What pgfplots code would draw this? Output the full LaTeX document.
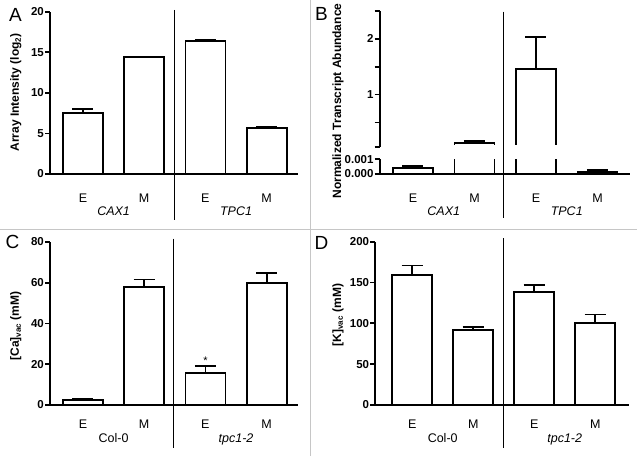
\documentclass[border=0pt]{standalone}
\usepackage{fontspec}
\setmainfont{Liberation Sans}
\usepackage{pgfplots}
\usepackage{pgfplotstable}
\pgfplotsset{compat=1.18}

\pgfplotsset{
  panel/.style={
    scale only axis, anchor=south west,
    axis lines*=left,
    axis line style={line width=1.8pt, black},
    tick align=outside,
    major tick length=5pt,
    ytick style={line width=1.8pt, black},
    xtick style={draw=none},
    xtick={0,1,2,3},
    xticklabels={E,M,E,M},
    xticklabel style={font=\fontsize{12.5}{14}\selectfont, anchor=base},
    yticklabel style={font=\bfseries\fontsize{11.5}{13}\selectfont, inner sep=1pt},
    /pgf/number format/assume math mode=true,
    scaled y ticks=false,
    ybar, bar width=40pt, bar shift=0pt,
    ymin=0, clip=false,
  },
  barplot/.style={draw=black, fill=white, line width=1.8pt,
    error bars/y dir=plus, error bars/y explicit,
    error bars/error bar style={line width=1.8pt, solid, black},
    error bars/error mark options={rotate=90, line width=1.8pt, mark size=10.5pt, black}},
}
\tikzset{glabel/.style={anchor=base, font=\fontsize{12.5}{14}\selectfont}}

% panel B: E/M for CAX1 and TPC1
\pgfplotstableread{
x y err
0 0.0004 0.00015
1 0.125 0.04
2 1.46 0.57
3 0.00015 0.0001
}\dataB

\begin{document}
\begin{tikzpicture}
\useasboundingbox (0,0) rectangle (637pt,456pt);

% panel separators
\draw[gray!45, line width=1pt] (310pt,0) -- (310pt,456pt);
\draw[gray!45, line width=1pt] (0,227pt) -- (637pt,227pt);

% ---------- A ----------
\begin{axis}[panel, at={(50pt,282pt)}, width=248pt, height=162.3pt,
  xmin=-0.539, xmax=3.513, ymax=20, ytick={0,5,10,15,20},
  xticklabel style={yshift=-23pt}]
\addplot[barplot] coordinates {(0,7.5) +- (0,0.55) (1,14.4) +- (0,0.05) (2,16.4) +- (0,0.12) (3,5.7) +- (0,0.12)};
\node[glabel, font=\itshape\fontsize{12.5}{14}\selectfont, yshift=-41pt] at (axis cs:0.5,0) {CAX1};
\node[glabel, font=\itshape\fontsize{12.5}{14}\selectfont, yshift=-41pt] at (axis cs:2.5,0) {TPC1};
\end{axis}
\draw[line width=1pt] (174pt,446pt) -- (174pt,236pt);

% ---------- B (broken axis) ----------
\begin{axis}[panel, at={(379.7pt,282pt)}, width=250pt, height=14.7pt,
  xmin=-0.541, xmax=3.524, ymax=0.001, ytick={0,0.001}, yticklabels={0.000,0.001},
  clip=true, clip mode=individual, xticklabel style={yshift=-23pt}]
\addplot[barplot] coordinates {(0,0.0004) +- (0,0.00015) (3,0.00015) +- (0,0.0001)};
\addplot[draw=black, fill=white, line width=1.8pt, y filter/.expression={min(y,0.0016)}]
  table[x=x, y=y] {\dataB};
\node[glabel, font=\itshape\fontsize{12.5}{14}\selectfont, yshift=-41pt] at (axis cs:0.5,0) {CAX1};
\node[glabel, font=\itshape\fontsize{12.5}{14}\selectfont, yshift=-41pt] at (axis cs:2.5,0) {TPC1};
\end{axis}
\begin{axis}[panel, at={(379.7pt,309.3pt)}, width=250pt, height=135.7pt,
  xmin=-0.541, xmax=3.524, ymin=0.065, ymax=2.5,
  axis x line=none, xtick=\empty,
  ytick={0.065,0.5,1,1.5,2,2.5}, yticklabels={,,1,,2,},
  clip=true, clip mode=individual]
\addplot[barplot] table[x=x, y=y, y error=err] {\dataB};
\end{axis}
% open gap of the broken axis (hides the bar bases at the lower edge of the upper segment)
\fill[white] (381.5pt,297.5pt) rectangle (632pt,310.6pt);
\draw[line width=1pt] (503.7pt,444.3pt) -- (503.7pt,238pt);

% ---------- C ----------
\begin{axis}[panel, at={(50pt,51pt)}, width=248pt, height=163pt,
  xmin=-0.539, xmax=3.513, ymax=80, ytick={0,20,40,60,80},
  xticklabel style={yshift=-18pt}]
\addplot[barplot] coordinates {(0,2.3) +- (0,0.6) (1,57.8) +- (0,3.8) (2,15.7) +- (0,3.3) (3,59.7) +- (0,5.0)};
\node[font=\fontsize{11}{12}\selectfont] at (axis cs:2,21.8) {*};
\node[glabel, yshift=-37pt] at (axis cs:0.5,0) {Col-0};
\node[glabel, font=\itshape\fontsize{12.5}{14}\selectfont, yshift=-37pt] at (axis cs:2.5,0) {tpc1-2};
\end{axis}
\draw[line width=1pt] (173.7pt,217.3pt) -- (173.7pt,8.3pt);

% ---------- D ----------
\begin{axis}[panel, at={(375.3pt,51pt)}, width=253.7pt, height=163.3pt,
  xmin=-0.605, xmax=3.554, ymax=200, ytick={0,50,100,150,200},
  xticklabel style={yshift=-18pt}]
\addplot[barplot] coordinates {(0,158.9) +- (0,12) (1,91.5) +- (0,4) (2,138.5) +- (0,8) (3,100.9) +- (0,10)};
\node[glabel, yshift=-37pt] at (axis cs:0.5,0) {Col-0};
\node[glabel, font=\itshape\fontsize{12.5}{14}\selectfont, yshift=-37pt] at (axis cs:2.5,0) {tpc1-2};
\end{axis}
\draw[line width=1pt] (503.7pt,218pt) -- (503.7pt,8pt);

% axis titles
\begin{scope}[every node/.style={rotate=90, anchor=base, font=\bfseries\fontsize{12}{14}\selectfont}]
\node at (19pt,363.5pt) {Array Intensity (log\textsubscript{2})};
\node at (341pt,355pt) {Normalized Transcript Abundance};
\node at (19pt,130pt) {[Ca]\textsubscript{vac} (mM)};
\node at (341pt,141pt) {[K]\textsubscript{vac} (mM)};
\end{scope}

% panel letters
\begin{scope}[every node/.style={font=\fontsize{19}{20}\selectfont}]
\node at (15.5pt,441.5pt) {A};
\node at (321.5pt,442pt) {B};
\node at (12.5pt,214pt) {C};
\node at (321.5pt,213pt) {D};
\end{scope}
\end{tikzpicture}
\end{document}
